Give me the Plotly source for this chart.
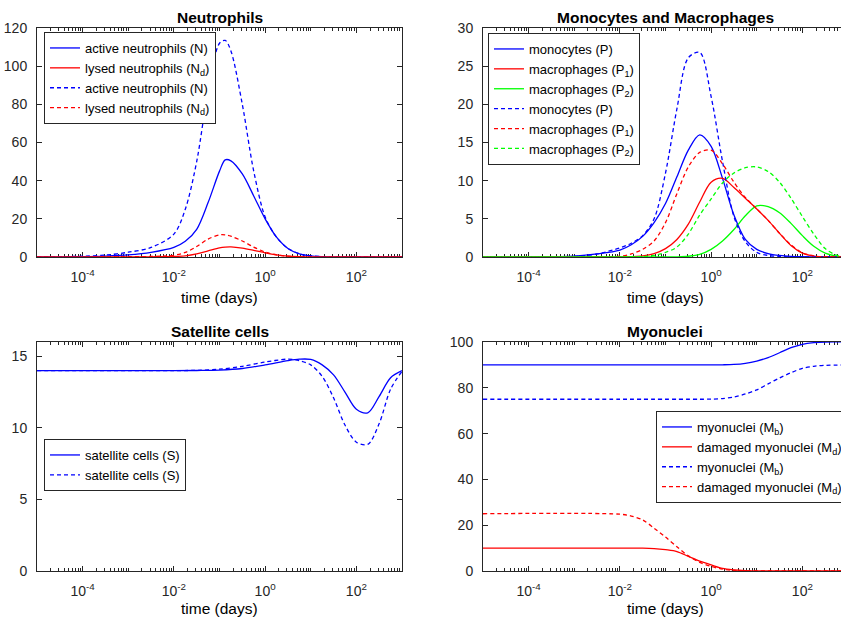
import plotly.graph_objects as go

W, H = 841, 621

# ---------------- data (log10 of time in days, values) ----------------
t_neu_log = [-5, -4.5, -4, -3.5, -3, -2.5, -2, -1.75, -1.5, -1.25, -1, -0.875, -0.75,
             -0.5, -0.25, 0, 0.25, 0.5, 0.75, 1, 1.25, 1.5, 2, 2.5, 3]
N_solid = [0.03, 0.08, 0.2, 0.5, 1.1, 2.4, 5.0, 8.2, 14.5, 28.5, 45, 50.9, 50.4,
           43.5, 32, 20, 10.4, 4.5, 1.7, 0.6, 0.2, 0.08, 0.01, 0, 0]
Nd_solid = [0, 0, 0.01, 0.02, 0.05, 0.1, 0.25, 0.6, 1.6, 3.2, 4.8, 5.2, 5.3,
            4.66, 3.5, 2.2, 1.15, 0.5, 0.2, 0.07, 0.02, 0.01, 0, 0, 0]
N_dash = [0.05, 0.15, 0.4, 1.0, 2.5, 5.0, 12, 25, 50, 87, 112, 113.5, 108,
          80, 45, 21, 10.4, 4.5, 1.7, 0.6, 0.2, 0.08, 0.01, 0, 0]
Nd_dash = [0, 0, 0.02, 0.05, 0.12, 0.3, 0.9, 2.4, 5.5, 9.4, 11.6, 11.6, 10.9,
           8.4, 5.2, 2.6, 1.1, 0.4, 0.12, 0.04, 0.01, 0, 0, 0, 0]

t_mac_log = [-5, -4, -3, -2.5, -2, -1.75, -1.5, -1.25, -1, -0.75, -0.5, -0.25, 0,
             0.25, 0.5, 0.75, 1, 1.25, 1.5, 1.75, 2, 2.25, 2.5, 2.75, 3]
P_solid = [0, 0.02, 0.12, 0.4, 0.9, 1.6, 2.7, 4.5, 7, 10.5, 14, 16, 14.5,
           10.3, 5.5, 2.3, 1.0, 0.45, 0.2, 0.08, 0.03, 0.01, 0, 0, 0]
P1_solid = [0, 0, 0, 0, 0, 0.05, 0.15, 0.45, 1.1, 2.3, 4.3, 7.2, 9.8,
            10.3, 9.1, 7.7, 6.3, 4.8, 3.1, 1.5, 0.5, 0.12, 0.02, 0, 0]
P2_solid = [0, 0, 0, 0, 0, 0, 0, 0, 0, 0.02, 0.1, 0.35, 1.0,
            2.1, 3.6, 5.4, 6.7, 6.6, 5.8, 4.4, 2.8, 1.4, 0.5, 0.12, 0]
P_dash = [0, 0.02, 0.08, 0.4, 1.2, 1.8, 2.8, 5, 11, 19.4, 26.1, 26.8, 21,
          12.5, 5.3, 2.0, 0.6, 0.2, 0.07, 0.02, 0, 0, 0, 0, 0]
P1_dash = [0, 0, 0, 0, 0.1, 0.4, 1.0, 2.1, 4.5, 8.3, 11.8, 13.7, 14,
           12.2, 9.8, 7.8, 6.3, 4.8, 3.1, 1.6, 0.55, 0.15, 0.03, 0, 0]
P2_dash = [0, 0, 0, 0, 0, 0, 0.05, 0.2, 0.6, 1.3, 3.0, 5.5, 7.6,
           9.7, 11.0, 11.7, 11.8, 11.2, 9.8, 7.7, 5.3, 3.0, 1.1, 0.25, 0]

t_sat_log = [-5, -4, -3, -2, -1.5, -1, -0.5, 0, 0.5, 0.75, 1, 1.25, 1.5, 1.75,
             2, 2.25, 2.5, 2.75, 3]
S_solid = [14, 14, 14, 14, 14.01, 14.04, 14.15, 14.4, 14.7, 14.8, 14.78, 14.4,
           13.7, 12.5, 11.3, 11.05, 12.2, 13.5, 14.0]
S_dash = [14, 14, 14, 14, 14.02, 14.1, 14.3, 14.6, 14.8, 14.7, 14.4, 13.6,
          12.1, 10.2, 9.0, 8.85, 10.3, 12.7, 13.95]

t_myo_log = [-5, -2, -1.75, -1.5, -1.25, -1, -0.75, -0.5, -0.25, 0, 0.25, 0.5,
             0.75, 1, 1.25, 1.5, 1.75, 2, 2.25, 2.5, 3]
Mb_solid = [90, 90, 90, 90, 90, 90, 90, 90, 90, 90, 90.05, 90.2, 90.7, 91.7,
            93.2, 95.3, 97.5, 99, 99.7, 100, 100]
Md_solid = [10, 10, 10, 10, 9.8, 9.3, 8.5, 6.4, 4.3, 2.7, 1.1, 0.45, 0.15, 0.05,
            0, 0, 0, 0, 0, 0, 0]
Mb_dash = [75, 75, 75, 75, 75, 75, 75, 75, 75, 75.05, 75.3, 76.0, 77.3, 79.1,
           81.7, 84.3, 86.6, 88.5, 89.4, 89.8, 90]
Md_dash = [25, 24.8, 24, 22.3, 18.7, 14.8, 10.6, 6.6, 3.8, 2.0, 0.8, 0.25, 0.08,
           0, 0, 0, 0, 0, 0, 0, 0]

x_tickvals = [1e-4, 1e-2, 1, 1e2]
x_ticktext = ['10<sup>-4</sup>', '10<sup>-2</sup>', '10<sup>0</sup>', '10<sup>2</sup>']

BLUE, RED, GREEN = '#0000ff', '#ff0000', '#00ff00'
AX = '#262626'
FONT = 'Liberation Sans, Arial, Helvetica, sans-serif'

fig = go.Figure()


def add(xa, ya, logt, vals, name, color, dash, legend):
    fig.add_trace(go.Scatter(
        x=[10 ** v for v in logt], y=vals, mode='lines', name=name,
        line=dict(color=color, width=1.3, dash=dash, shape='spline', smoothing=0.9),
        xaxis=xa, yaxis=ya, legend=legend, hoverinfo='skip'))


DASH = '4px,3px'
add('x', 'y', t_neu_log, N_solid, 'active neutrophils (N)', BLUE, 'solid', 'legend')
add('x', 'y', t_neu_log, Nd_solid, 'lysed neutrophils (N<sub>d</sub>)', RED, 'solid', 'legend')
add('x', 'y', t_neu_log, N_dash, 'active neutrophils (N)', BLUE, DASH, 'legend')
add('x', 'y', t_neu_log, Nd_dash, 'lysed neutrophils (N<sub>d</sub>)', RED, DASH, 'legend')

add('x2', 'y2', t_mac_log, P_solid, 'monocytes (P)', BLUE, 'solid', 'legend2')
add('x2', 'y2', t_mac_log, P1_solid, 'macrophages (P<sub>1</sub>)', RED, 'solid', 'legend2')
add('x2', 'y2', t_mac_log, P2_solid, 'macrophages (P<sub>2</sub>)', GREEN, 'solid', 'legend2')
add('x2', 'y2', t_mac_log, P_dash, 'monocytes (P)', BLUE, DASH, 'legend2')
add('x2', 'y2', t_mac_log, P1_dash, 'macrophages (P<sub>1</sub>)', RED, DASH, 'legend2')
add('x2', 'y2', t_mac_log, P2_dash, 'macrophages (P<sub>2</sub>)', GREEN, DASH, 'legend2')

add('x3', 'y3', t_sat_log, S_solid, 'satellite cells (S)', BLUE, 'solid', 'legend3')
add('x3', 'y3', t_sat_log, S_dash, 'satellite cells (S)', BLUE, DASH, 'legend3')

add('x4', 'y4', t_myo_log, Mb_solid, 'myonuclei (M<sub>b</sub>)', BLUE, 'solid', 'legend4')
add('x4', 'y4', t_myo_log, Md_solid, 'damaged myonuclei (M<sub>d</sub>)', RED, 'solid', 'legend4')
add('x4', 'y4', t_myo_log, Mb_dash, 'myonuclei (M<sub>b</sub>)', BLUE, DASH, 'legend4')
add('x4', 'y4', t_myo_log, Md_dash, 'damaged myonuclei (M<sub>d</sub>)', RED, DASH, 'legend4')

minor_vals = [d * 10.0 ** n for n in range(-5, 4) for d in range(1, 10)
              if not (d == 1 and n % 2 == 0 and -4 <= n <= 2)]

# geometry (pixels)
LX = (37, 402)
RX0 = 483
DEC = (LX[1] - LX[0]) / 8.0
right_max = -5 + (W - RX0) / DEC
TY = (28, 257)
BY = (342, 571)


def xax(domain, rng, anchor):
    return dict(type='log', domain=domain, range=rng, anchor=anchor,
                tickmode='array', tickvals=x_tickvals, ticktext=x_ticktext,
                ticks='inside', ticklen=5, tickcolor=AX, tickwidth=1,
                ticklabelstandoff=7,
                showline=True, linecolor=AX, linewidth=1, mirror='ticks',
                showgrid=False, zeroline=False, layer='below traces',
                tickfont=dict(size=14, color=AX, family=FONT),
                minor=dict(tickmode='array', tickvals=minor_vals, ticks='inside',
                           ticklen=3, tickcolor=AX, tickwidth=1, showgrid=False))


def yax(domain, rng, dtick, anchor, mirror):
    return dict(domain=domain, range=rng, anchor=anchor, tickmode='linear', tick0=0,
                dtick=dtick, ticks='inside', ticklen=5, tickcolor=AX,
                ticklabelstandoff=6,
                showline=True, linecolor=AX, linewidth=1, mirror=mirror,
                showgrid=False, zeroline=False, layer='below traces',
                tickfont=dict(size=14, color=AX, family=FONT))


dx_left = [LX[0] / W, LX[1] / W]
dx_right = [RX0 / W, 1.0]
dy_top = [1 - TY[1] / H, 1 - TY[0] / H]
dy_bot = [1 - BY[1] / H, 1 - BY[0] / H]


def legend(xpx, ypx):
    return dict(x=xpx / W, y=1 - ypx / H, xanchor='left', yanchor='top',
                bgcolor='white', bordercolor=AX, borderwidth=1,
                font=dict(size=13, color='#000000', family=FONT),
                tracegroupgap=0, itemwidth=30, traceorder='normal')


annotations = []


def label(text, xpx, ypx, size=15.5):
    annotations.append(dict(text=text, x=xpx / W, y=1 - ypx / H, xref='paper',
                            yref='paper', showarrow=False, xanchor='center',
                            yanchor='middle', font=dict(size=size, color='#000000',
                                                        family=FONT)))


label('<b>Neutrophils</b>', 219.5, 17)
label('<b>Monocytes and Macrophages</b>', 665, 17)
label('<b>Satellite cells</b>', 219.5, 331)
label('<b>Myonuclei</b>', 665, 331)
label('time (days)', 219.5, 297)
label('time (days)', 665, 297)
label('time (days)', 219.5, 608)
label('time (days)', 665, 608)

fig.update_layout(
    width=W, height=H,
    margin=dict(l=0, r=0, t=0, b=0, autoexpand=False),
    paper_bgcolor='white', plot_bgcolor='white',
    font=dict(family=FONT, color=AX),
    xaxis=xax(dx_left, [-5, 3], 'y'),
    yaxis=yax(dy_top, [0, 120], 20, 'x', 'ticks'),
    xaxis2=xax(dx_right, [-5, right_max], 'y2'),
    yaxis2=yax(dy_top, [0, 30], 5, 'x2', False),
    xaxis3=xax(dx_left, [-5, 3], 'y3'),
    yaxis3=yax(dy_bot, [0, 16], 5, 'x3', 'ticks'),
    xaxis4=xax(dx_right, [-5, right_max], 'y4'),
    yaxis4=yax(dy_bot, [0, 100], 20, 'x4', False),
    legend=legend(44, 32),
    legend2=legend(488, 33),
    legend3=legend(44, 439),
    legend4=legend(656, 411),
    annotations=annotations,
    showlegend=True,
    hovermode=False,
)

fig.write_html('out.html',
               config={'displayModeBar': False, 'staticPlot': True},
               post_script="document.body.style.margin='0px';"
                           "document.body.style.overflow='hidden';")
